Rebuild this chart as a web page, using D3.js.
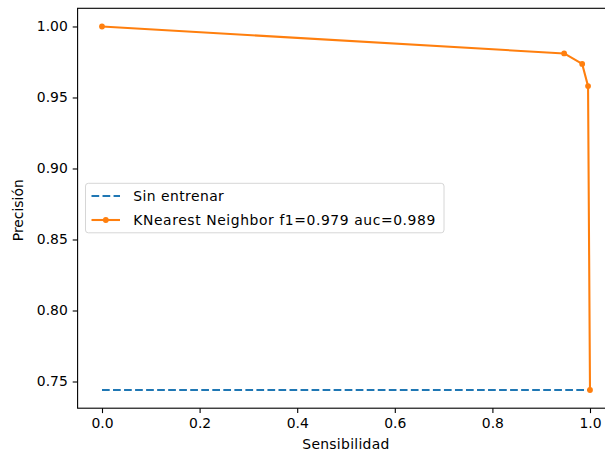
<!DOCTYPE html>
<html>
<head>
<meta charset="utf-8">
<script src="https://cdn.jsdelivr.net/npm/d3@7"></script>
<style>
  html, body { margin: 0; padding: 0; background: #fff; }
  svg { display: block; }
  text { font-family: "DejaVu Sans", sans-serif; fill: #000; }
</style>
</head>
<body>
<div id="chart"></div>
<script>
// Precision-recall curve of the KNN model vs. the untrained baseline
const recall = [0.0, 0.947, 0.984, 0.996, 1.0];
const precision = [1.0, 0.981, 0.9736, 0.958, 0.744];
const baselineRecall = [0.0, 1.0];
const baselinePrecision = [0.744, 0.744];
const xTicks = [0.0, 0.2, 0.4, 0.6, 0.8, 1.0];
const yTicks = [0.75, 0.80, 0.85, 0.90, 0.95, 1.00];
const seriesLabels = ["Sin entrenar", "KNearest Neighbor f1=0.979 auc=0.989"];
const xLabel = "Sensibilidad";
const yLabel = "Precisión";

const W = 605, H = 455;
const plotLeft = 77.6, plotTop = 8.3, plotW = 536.8, plotBottom = 408.2;

const svg = d3.select("#chart").append("svg")
  .attr("width", W).attr("height", H);

// matplotlib-style 5% margins around the data
const xAll = recall.concat(baselineRecall);
const yAll = precision.concat(baselinePrecision);
const [x0, x1] = d3.extent(xAll), [y0, y1] = d3.extent(yAll);
const xm = (x1 - x0) * 0.05, ym = (y1 - y0) * 0.05;

const x = d3.scaleLinear().domain([x0 - xm, x1 + xm]).range([plotLeft, plotLeft + plotW]);
const y = d3.scaleLinear().domain([y0 - ym, y1 + ym]).range([plotBottom, plotTop]);

const line = d3.line().x(d => x(d[0])).y(d => y(d[1]));

// baseline (dashed)
svg.append("path")
  .datum(d3.zip(baselineRecall, baselinePrecision))
  .attr("d", line)
  .attr("fill", "none")
  .attr("stroke", "#1f77b4")
  .attr("stroke-width", 2.08)
  .attr("stroke-dasharray", "7.7,3.33");

// model curve
const pts = d3.zip(recall, precision);
svg.append("path")
  .datum(pts)
  .attr("d", line)
  .attr("fill", "none")
  .attr("stroke", "#ff7f0e")
  .attr("stroke-width", 2.08)
  .attr("stroke-linejoin", "round");
svg.selectAll("circle.pt").data(pts).enter().append("circle")
  .attr("class", "pt")
  .attr("cx", d => x(d[0])).attr("cy", d => y(d[1]))
  .attr("r", 2.9)
  .attr("fill", "#ff7f0e");

// axes
const xAxis = d3.axisBottom(x).tickValues(xTicks).tickFormat(d3.format(".1f"))
  .tickSize(4.9).tickPadding(4.9);
const yAxis = d3.axisLeft(y).tickValues(yTicks).tickFormat(d3.format(".2f"))
  .tickSize(4.9).tickPadding(4.9);

const gx = svg.append("g").attr("transform", `translate(0,${plotBottom})`).call(xAxis);
const gy = svg.append("g").attr("transform", `translate(${plotLeft},0)`).call(yAxis);
[gx, gy].forEach(g => {
  g.select(".domain").remove();
  g.selectAll(".tick line").attr("stroke", "#000").attr("stroke-width", 1.1);
  g.selectAll(".tick text").attr("font-size", "13.9px")
    .attr("font-family", "DejaVu Sans, sans-serif").attr("fill", "#000");
});

// frame
svg.append("rect")
  .attr("x", plotLeft).attr("y", plotTop)
  .attr("width", plotW).attr("height", plotBottom - plotTop)
  .attr("fill", "none").attr("stroke", "#000").attr("stroke-width", 1.1);

// axis labels
svg.append("text")
  .attr("x", 302.3).attr("y", 449)
  .attr("font-size", "13.9px")
  .attr("textLength", 87).attr("lengthAdjust", "spacing")
  .text(xLabel);
svg.append("text")
  .attr("transform", `translate(23,${(plotTop + plotBottom) / 2 + 2}) rotate(-90)`)
  .attr("text-anchor", "middle").attr("font-size", "13.9px")
  .text(yLabel);

// legend
const lg = svg.append("g");
lg.append("rect")
  .attr("x", 85.5).attr("y", 183.3).attr("width", 358.5).attr("height", 49.5)
  .attr("rx", 2.8).attr("ry", 2.8)
  .attr("fill", "#fff").attr("fill-opacity", 0.8)
  .attr("stroke", "#d6d6d6").attr("stroke-width", 1);
const rows = [196, 220];
const labelWidths = [90.5, 302];
lg.append("line")
  .attr("x1", 91.5).attr("x2", 120).attr("y1", rows[0]).attr("y2", rows[0])
  .attr("stroke", "#1f77b4").attr("stroke-width", 2.08)
  .attr("stroke-dasharray", "7.7,3.33");
lg.append("line")
  .attr("x1", 91.5).attr("x2", 120).attr("y1", rows[1]).attr("y2", rows[1])
  .attr("stroke", "#ff7f0e").attr("stroke-width", 2.08);
lg.append("circle")
  .attr("cx", 105.8).attr("cy", rows[1]).attr("r", 2.9).attr("fill", "#ff7f0e");
seriesLabels.forEach((t, i) => {
  lg.append("text")
    .attr("x", 133.3).attr("y", rows[i]).attr("dy", "0.36em")
    .attr("font-size", "13.9px")
    .attr("textLength", labelWidths[i]).attr("lengthAdjust", "spacing")
    .text(t);
});
</script>
</body>
</html>
